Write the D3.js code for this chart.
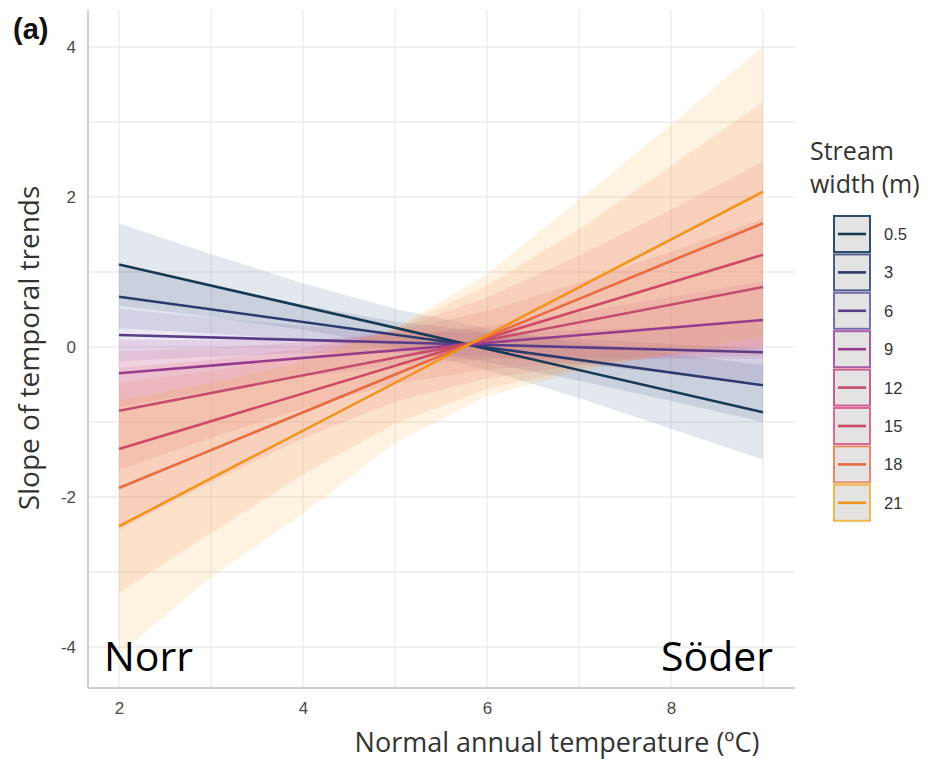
<!DOCTYPE html>
<html>
<head>
<meta charset="utf-8">
<script src="https://cdn.jsdelivr.net/npm/d3@7"></script>
<style>
  body{margin:0;background:#fff;}
  text{font-family:"Open Sans",sans-serif;}
</style>
</head>
<body>
<div class="canvas"></div>
<script>
// stream widths (legend) and colours
const widths=['0.5','3','6','9','12','15','18','21'];
const lineColors=['#173a52','#2c3a6c','#5a3d86','#963c8a','#c54d6c','#cc4a62','#e86c42','#ef951f'];
const bandColors=['#3e6888','#44508c','#7c5cae','#b45caa','#dc5c80','#dc5c70','#f28450','#f7ab34'];
const keyBorders=['#2b4d68','#4c5a8c','#7c6aaa','#aa5aaa','#d25a8c','#d86896','#ea8a62','#f2b84e'];

// fitted line at temp 2 and temp 9
const lineStart=[1.10,0.67,0.16,-0.35,-0.85,-1.36,-1.88,-2.39];
const lineEnd=[-0.87,-0.51,-0.07,0.36,0.80,1.23,1.65,2.07];

// confidence ribbons, read at these temperatures
const tempNodes=[2,3,4,5,6,7,8,9];
const ciLower=[
  [0.55,0.40,0.23,0.01,-0.31,-0.68,-1.09,-1.50],
  [0.25,0.18,0.10,-0.02,-0.20,-0.45,-0.72,-1.00],
  [-0.19,-0.13,-0.08,-0.08,-0.13,-0.23,-0.35,-0.48],
  [-0.80,-0.59,-0.40,-0.25,-0.16,-0.14,-0.15,-0.16],
  [-1.64,-1.21,-0.82,-0.49,-0.30,-0.20,-0.15,-0.11],
  [-2.44,-1.81,-1.22,-0.73,-0.42,-0.24,-0.11,-0.02],
  [-3.28,-2.48,-1.70,-1.02,-0.56,-0.29,-0.11,0.03],
  [-4.10,-3.07,-2.22,-1.28,-0.66,-0.32,-0.08,0.13]
];
const ciUpper=[
  [1.65,1.24,0.85,0.51,0.25,0.06,-0.09,-0.24],
  [1.09,0.82,0.56,0.34,0.20,0.11,0.04,-0.02],
  [0.51,0.39,0.28,0.20,0.19,0.23,0.27,0.34],
  [0.10,0.09,0.10,0.15,0.28,0.46,0.67,0.88],
  [-0.06,-0.01,0.06,0.21,0.48,0.86,1.27,1.71],
  [-0.28,-0.17,-0.02,0.23,0.66,1.22,1.83,2.48],
  [-0.48,-0.32,-0.11,0.24,0.82,1.57,2.41,3.27],
  [-0.71,-0.48,-0.20,0.25,0.97,1.96,2.96,4.01]
];

const xTicks=[2,4,6,8];
const yTicks=[-4,-2,0,2,4];

const svg=d3.select('.canvas')
  .append('svg')
    .attr('width',925)
    .attr('height',759);

// panel edges in pixels
const pLeft=88, pRight=795, pTop=10, pBottom=688;

const x=d3.scaleLinear().domain([1.663,9.348]).range([pLeft,pRight]);
const y=d3.scaleLinear().domain([-4.547,4.493]).range([pBottom,pTop]);

// grid (major + minor look the same)
const grid=svg.append('g');
grid.selectAll('line.v')
  .data(d3.range(2,10))
  .enter().append('line')
    .attr('x1',d=>x(d)).attr('x2',d=>x(d))
    .attr('y1',pTop).attr('y2',pBottom)
    .attr('stroke','#ebebeb').attr('stroke-width',1.3);
grid.selectAll('line.h')
  .data(d3.range(-4,5))
  .enter().append('line')
    .attr('y1',d=>y(d)).attr('y2',d=>y(d))
    .attr('x1',pLeft).attr('x2',pRight)
    .attr('stroke','#ebebeb').attr('stroke-width',1.3);

// ribbons
const area=d3.area()
  .x((d,i)=>x(tempNodes[i]))
  .y0(d=>y(d[0]))
  .y1(d=>y(d[1]));

widths.forEach((w,k)=>{
  const pts=tempNodes.map((t,i)=>[ciLower[k][i],ciUpper[k][i]]);
  svg.append('path')
    .datum(pts)
    .attr('d',area)
    .attr('fill',bandColors[k])
    .attr('fill-opacity',0.15);
});

// lines
const line=d3.line().x(d=>x(d[0])).y(d=>y(d[1]));
widths.forEach((w,k)=>{
  svg.append('path')
    .datum([[2,lineStart[k]],[9,lineEnd[k]]])
    .attr('d',line)
    .attr('fill','none')
    .attr('stroke',lineColors[k])
    .attr('stroke-width',2.6);
});

// axes lines only, no tick marks
const xAxis=d3.axisBottom(x).tickValues(xTicks).tickSize(0).tickPadding(14).tickFormat(d=>String(d));
const yAxis=d3.axisLeft(y).tickValues(yTicks).tickSize(0).tickPadding(12).tickFormat(d=>String(d));
const xg=svg.append('g').attr('transform',`translate(0,${pBottom})`).call(xAxis);
const yg=svg.append('g').attr('transform',`translate(${pLeft},0)`).call(yAxis);
[xg,yg].forEach(g=>{
  g.select('.domain').attr('stroke','#cfcfcf').attr('stroke-width',2);
  g.selectAll('text')
    .attr('fill','#4a4a4a')
    .style('font-family','"Liberation Sans",Arial,sans-serif')
    .style('font-size','17px');
});
xg.select('.domain').attr('d',`M${pLeft},0H${pRight}`);
yg.select('.domain').attr('d',`M0,${pTop}V${pBottom}`);

// titles
svg.append('text')
  .attr('x',557).attr('y',752)
  .attr('text-anchor','middle')
  .attr('fill','#333')
  .style('font-size','27px')
  .text('Normal annual temperature (ºC)');
svg.append('text')
  .attr('transform','translate(39,348) rotate(-90)')
  .attr('text-anchor','middle')
  .attr('fill','#333')
  .style('font-size','28px')
  .text('Slope of temporal trends');
svg.append('text')
  .attr('x',13).attr('y',39)
  .attr('fill','#111')
  .style('font-family','"Liberation Sans",Arial,sans-serif')
  .style('font-weight','bold')
  .style('font-size','29px')
  .text('(a)');

// region labels
svg.append('text')
  .attr('x',104).attr('y',671)
  .attr('fill','#000')
  .style('font-size','41px')
  .text('Norr');
svg.append('text')
  .attr('x',773).attr('y',671)
  .attr('text-anchor','end')
  .attr('fill','#000')
  .style('font-size','41px')
  .text('Söder');

// legend
const legend=svg.append('g').attr('transform','translate(810,0)');
legend.append('text').attr('x',0).attr('y',160)
  .attr('fill','#333').style('font-size','25px').text('Stream');
legend.append('text').attr('x',0).attr('y',193)
  .attr('fill','#333').style('font-size','25px').text('width (m)');

const keys=legend.selectAll('g.key')
  .data(widths)
  .enter().append('g')
    .attr('transform',(d,i)=>`translate(24,${216+i*38.4})`);
keys.append('rect')
  .attr('width',36).attr('height',36)
  .attr('fill','#e3e3e3')
  .attr('stroke',(d,i)=>keyBorders[i])
  .attr('stroke-width',2);
keys.append('line')
  .attr('x1',4).attr('x2',32)
  .attr('y1',18).attr('y2',18)
  .attr('stroke',(d,i)=>lineColors[i])
  .attr('stroke-width',2.6);
keys.append('text')
  .attr('x',50).attr('y',24)
  .attr('fill','#333')
  .style('font-family','"Liberation Sans",Arial,sans-serif')
  .style('font-size','16.5px')
  .text(d=>d);
</script>
</body>
</html>
